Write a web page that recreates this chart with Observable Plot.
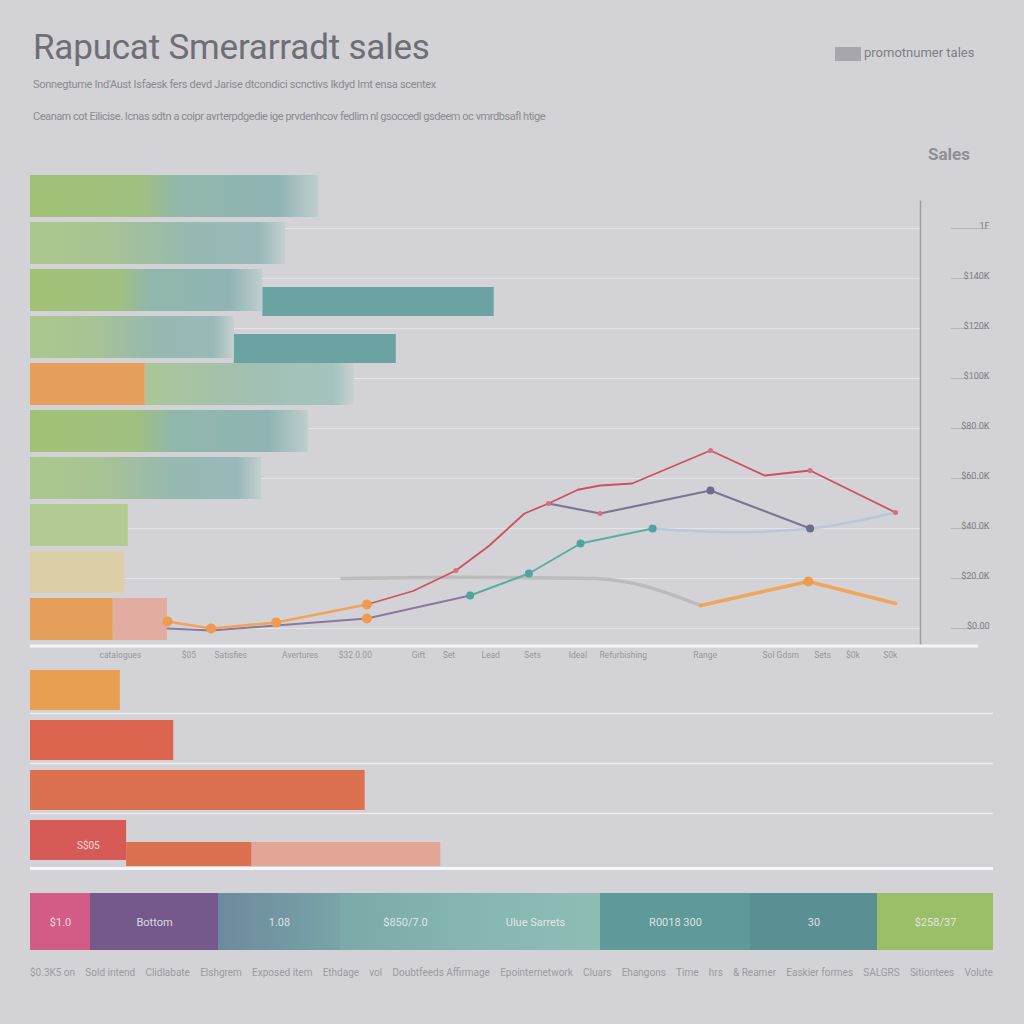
<!DOCTYPE html>
<html><head><meta charset="utf-8">
<script src="https://cdn.jsdelivr.net/npm/d3@7"></script>
<script src="https://cdn.jsdelivr.net/npm/@observablehq/plot@0.6"></script>
<style>
body{margin:0;background:#d3d3d7;font-family:Roboto,"Noto Sans",sans-serif;}
#wrap{position:relative;width:1024px;height:1024px;overflow:hidden;background:#d3d3d7;}
.abs{position:absolute;}
#title{left:33px;top:27px;font-size:35px;color:#6e6e74;letter-spacing:-0.2px;white-space:nowrap;}
#sub1{left:33px;top:78px;font-size:11px;color:#8a8a90;white-space:nowrap;letter-spacing:-0.3px;}
#sub2{left:33px;top:110px;font-size:11px;color:#8a8a90;white-space:nowrap;letter-spacing:-0.45px;}
#legIcon{left:835px;top:47px;width:26px;height:14px;background:#a6a6ac;}
#legText{left:864px;top:45px;font-size:13px;color:#7e7e84;white-space:nowrap;}
#salesLbl{left:928px;top:144px;font-size:17px;font-weight:bold;color:#8e8e94;}
#caption{left:30px;top:967px;width:963px;display:flex;justify-content:space-between;font-size:10px;color:#9a9aa0;white-space:nowrap;}
svg{display:block;}
</style></head><body>
<div id="wrap">
  <div id="title" class="abs"></div>
  <div id="sub1" class="abs"></div>
  <div id="sub2" class="abs"></div>
  <div id="legIcon" class="abs"></div>
  <div id="legText" class="abs"></div>
  <div id="salesLbl" class="abs"></div>
  <div id="gridLayer" class="abs" style="left:0;top:150px"></div>
  <div id="barLayer" class="abs" style="left:0;top:150px"></div>
  <div id="lineLayer" class="abs" style="left:0;top:150px"></div>
  <div id="lowerLayer" class="abs" style="left:0;top:645px"></div>
  <div id="bandLayer" class="abs" style="left:0;top:885px"></div>
  <div id="caption" class="abs"></div>
</div>
<script>
// ---------- text ----------
const titleText = "Rapucat Smerarradt sales";
const subtitle1 = "Sonnegtume Ind'Aust Isfaesk fers devd Jarise dtcondici scnctivs Ikdyd Imt ensa scentex";
const subtitle2 = "Ceanarn cot Eilicise. Icnas sdtn a coipr avrterpdgedie ige prvdenhcov fedlim nl gsoccedl gsdeem oc vmrdbsafl htige";
const legendText = "promotnumer tales";
const salesLabel = "Sales";
const captionWords = ["$0.3K5 on","Sold intend","Clidlabate","Elshgrem","Exposed item","Ethdage","vol","Doubtfeeds Affirmage","Epointernetwork","Cluars","Ehangons","Time","hrs","& Reamer","Easkier formes","SALGRS","Sitiontees","Volute"];

// ---------- main chart data ----------
const barRows = ["r1","r2","r3","r4","r5","r6","r7","r8","r9","r10"];
const barSegments = [
  {row:"r1", start:0, end:32.4, kind:"mixA"},
  {row:"r2", start:0, end:28.7, kind:"mixB"},
  {row:"r3", start:0, end:26.1, kind:"mixA"},
  {row:"r4", start:0, end:22.9, kind:"mixB"},
  {row:"r5", start:0, end:12.9, kind:"orange"},
  {row:"r5", start:12.9, end:36.4, kind:"mixC"},
  {row:"r6", start:0, end:31.2, kind:"mixA"},
  {row:"r7", start:0, end:26.0, kind:"mixB"},
  {row:"r8", start:0, end:11.0, kind:"green"},
  {row:"r9", start:0, end:10.6, kind:"cream"},
  {row:"r10", start:0, end:9.3, kind:"orange"},
  {row:"r10", start:9.3, end:15.4, kind:"pink"}
];
const offsetSegments = [
  {row:"r3", start:26.1, end:52.1},
  {row:"r4", start:22.9, end:41.1}
];

const yTickVals = [0,20,40,60,80,100,120,140,160];
const yTickLabels = ["$0.00","$20.0K","$40.0K","$60.0K","$80.0K","$100K","$120K","$140K","1F"];
const xTickVals = [10.1,17.8,22.5,30.3,36.5,43.6,47,51.7,56.4,61.5,66.6,75.8,84.3,89,92.4,96.6];
const xTickLabels = ["catalogues","$05","Satisfies","Avertures","$32.0.00","Gift","Set","Lead","Sets","Ideal","Refurbishing","Range","Sol Gdsm","Sets","$0k","S0k"];

const orangeEarly = [[15.4,2.8],[20.3,0],[27.6,2.4],[37.8,9.6]];
const orangeLate = [[75.3,9.2],[87.4,18.8],[97.2,10]];
const grayFaded = [[35,20],[49,20.5],[63.5,20],[66.3,19],[75.3,9.2]];
const purpleLow = [[15.4,0],[20.3,-0.8],[27.6,1.2],[37.8,4],[49.4,13.2]];
const tealLine = [[49.4,13.2],[56,22],[61.8,34],[69.9,40]];
const lightBlue = [[69.9,40],[79,38.5],[87.6,40],[97.2,46.4]];
const redLine = [[37.8,9.6],[43,15],[47.8,23.2],[51.5,33],[55.5,46],[58.2,50],[61.5,55.5],[64,57.2],[67.6,58],[76.4,71.2],[82.5,61.2],[87.6,63.2],[97.2,46.4]];
const slateLine = [[58.2,50],[64,46],[76.4,55.2],[87.6,40]];
const orangeDots = [[15.4,2.8],[20.3,0],[27.6,2.4],[37.8,9.6],[37.8,4],[87.4,18.8]];
const tealDots = [[49.4,13.2],[56,22],[61.8,34],[69.9,40]];
const slateDots = [[76.4,55.2],[87.6,40]];
const redDots = [[47.8,23.2],[58.2,50],[64,46],[76.4,71.2],[87.6,63.2],[97.2,46.4]];

// ---------- lower bar data ----------
const lowerRows = ["a","b","c","d"];
const lowerSegments = [
  {row:"a", start:0, end:10.1, kind:"orange"},
  {row:"b", start:0, end:16.1, kind:"red"},
  {row:"c", start:0, end:37.6, kind:"redOrange"},
  {row:"d", start:0, end:10.8, kind:"deepRed"}
];
const lowerOffset = [
  {row:"d", start:10.8, end:24.9, kind:"redOrange"},
  {row:"d", start:24.9, end:46.1, kind:"salmon"}
];
const lowerLabel = [{row:"d", x:6.5, text:"S$05"}];

// ---------- band data ----------
const bandSegments = [
  {w:60, label:"$1.0", kind:"pink"},
  {w:128, label:"Bottom", kind:"purple"},
  {w:122, label:"1.08", kind:"slate"},
  {w:130, label:"$850/7.0", kind:"lightTeal1"},
  {w:130, label:"Ulue Sarrets", kind:"lightTeal2"},
  {w:150, label:"R0018 300", kind:"teal1"},
  {w:127, label:"30", kind:"teal2"},
  {w:116, label:"$258/37", kind:"green"}
];

// ---------- styles ----------
const mainFills = {mixA:"url(#gMixA)", mixB:"url(#gMixB)", mixC:"url(#gMixC)", orange:"#e59f5a", green:"#b3cb93", cream:"#ddd0a8", pink:"#e2ada0"};
const lowerFills = {orange:"#e89f52", red:"#dc6550", redOrange:"#dc7150", deepRed:"#d65a56", salmon:"#e2a596"};
const bandFills = {pink:"#d45b86", purple:"#74598a", slate:"url(#gSlate)", lightTeal1:"url(#gLT1)", lightTeal2:"url(#gLT2)", teal1:"#5f9a98", teal2:"#5a9094", green:"#9bbf69"};

document.getElementById("title").textContent = titleText;
document.getElementById("sub1").textContent = subtitle1;
document.getElementById("sub2").textContent = subtitle2;
document.getElementById("legText").textContent = legendText;
document.getElementById("salesLbl").textContent = salesLabel;
const cap = document.getElementById("caption");
captionWords.forEach(w => { const s = document.createElement("span"); s.textContent = w; cap.appendChild(s); });

const xLabelMap = new Map(xTickVals.map((v,i)=>[v,xTickLabels[i]]));
const yLabelMap = new Map(yTickVals.map((v,i)=>[v,yTickLabels[i]]));

const W = 1024, H = 520;
const common = {
  width: W, height: H, marginLeft: 30, marginRight: 104, marginTop: 78, marginBottom: 24.5,
  style: {background: "transparent", overflow: "visible", fontFamily: "Roboto, sans-serif"}
};
const xScale = {domain: [0, 100], axis: null};
const yLin = {domain: [-7, 160], axis: null};

// grid layer
const gridPlot = Plot.plot({
  ...common, x: xScale, y: yLin,
  marks: [
    Plot.ruleY(yTickVals, {x1: 0, x2: 100, stroke: "#e4e4e8", strokeWidth: 1.2}),
    Plot.ruleY(yTickVals, {x1: 103.5, x2: 107.8, stroke: "#b4b4ba", strokeWidth: 1}),
    Plot.ruleX([100], {y1: -7, y2: 171, stroke: "#9c9ca2", strokeWidth: 1.5}),
    Plot.axisY(yTickVals, {anchor: "right", tickSize: 0, tickPadding: 0, dx: 69, textAnchor: "end", dy: -2,
      tickFormat: d => yLabelMap.get(d), fontSize: 9, fill: "#7c7c82", label: null}),
    Plot.axisX(xTickVals, {anchor: "bottom", tickSize: 0, tickPadding: 6, tickFormat: d => xLabelMap.get(d),
      fontSize: 8.5, fill: "#96969c", label: null})
  ]
});
document.getElementById("gridLayer").appendChild(gridPlot);

// bars layer
const barPlot = Plot.plot({
  ...common, marginTop: 20, marginBottom: 25,
  x: xScale, y: {domain: barRows, axis: null, padding: 0.1},
  marks: [
    Plot.barX(offsetSegments, {y: "row", x1: "start", x2: "end", fill: "#6ba3a3", insetTop: 18, insetBottom: -5}),
    Plot.barX(barSegments, {y: "row", x1: "start", x2: "end", fill: d => mainFills[d.kind]})
  ]
});
const ns = "http://www.w3.org/2000/svg";
function addDefs(svg, html) {
  const defs = document.createElementNS(ns, "defs");
  defs.innerHTML = html;
  svg.insertBefore(defs, svg.firstChild);
}
addDefs(barPlot, `
  <linearGradient id="gMixA" x1="0" x2="1" y1="0" y2="0">
    <stop offset="0" stop-color="#a2c176"/><stop offset="0.38" stop-color="#a0c080"/>
    <stop offset="0.52" stop-color="#90b7ac"/><stop offset="0.86" stop-color="#8fb4b3"/>
    <stop offset="1" stop-color="#c0cdcd"/></linearGradient>
  <linearGradient id="gMixB" x1="0" x2="1" y1="0" y2="0">
    <stop offset="0" stop-color="#acc78d"/><stop offset="0.3" stop-color="#a8c393"/>
    <stop offset="0.62" stop-color="#96b9b1"/><stop offset="0.9" stop-color="#99b9b9"/>
    <stop offset="1" stop-color="#c5d0d0"/></linearGradient>
  <linearGradient id="gMixC" x1="0" x2="1" y1="0" y2="0">
    <stop offset="0" stop-color="#abc698"/><stop offset="0.5" stop-color="#a1c0b1"/>
    <stop offset="0.9" stop-color="#a4c3bf"/><stop offset="1" stop-color="#c7d1d1"/></linearGradient>
`);
document.getElementById("barLayer").appendChild(barPlot);

// lines layer
const L = (data, opts) => Plot.line(data, {x: d => d[0], y: d => d[1], ...opts});
const D = (data, opts) => Plot.dot(data, {x: d => d[0], y: d => d[1], ...opts});
const linePlot = Plot.plot({
  ...common, x: xScale, y: yLin,
  marks: [
    L(grayFaded, {stroke: "#b5b1b1", strokeWidth: 3.5, strokeOpacity: 0.75, curve: "monotone-x"}),
    L(lightBlue, {stroke: "#b4c6d6", strokeWidth: 2.5, strokeOpacity: 0.9, curve: "monotone-x"}),
    L(purpleLow, {stroke: "#8a78a0", strokeWidth: 2}),
    L(tealLine, {stroke: "#55b0a0", strokeWidth: 2}),
    L(slateLine, {stroke: "#7e7496", strokeWidth: 2.2}),
    L(redLine, {stroke: "#cf5060", strokeWidth: 1.8}),
    L(orangeEarly, {stroke: "#f0a35a", strokeWidth: 2.5}),
    L(orangeLate, {stroke: "#f2a04e", strokeWidth: 3.5, strokeOpacity: 0.9}),
    D(orangeDots, {r: 5, fill: "#f09a4e"}),
    D(tealDots, {r: 4, fill: "#4fa59a"}),
    D(slateDots, {r: 4, fill: "#6e6d8a"}),
    D(redDots, {r: 2.5, fill: "#d87080"}),
    Plot.ruleY([-7], {x1: 0, x2: 106.5, stroke: "#f5f5f7", strokeWidth: 3})
  ]
});
document.getElementById("lineLayer").appendChild(linePlot);

// lower bars
const lowerPlot = Plot.plot({
  width: W, height: 235, marginLeft: 30, marginRight: 31, marginTop: 15, marginBottom: 10,
  style: {background: "transparent", overflow: "visible", fontFamily: "Roboto, sans-serif"},
  x: {domain: [0, 108.2], axis: null}, y: {domain: lowerRows, axis: null, padding: 0.2},
  marks: [
    Plot.ruleY(["a","b","c"], {dy: 23, stroke: "#ebebee", strokeWidth: 1.3}),
    Plot.barX(lowerOffset, {y: "row", x1: "start", x2: "end", fill: d => lowerFills[d.kind], insetTop: 22, insetBottom: -6}),
    Plot.barX(lowerSegments, {y: "row", x1: "start", x2: "end", fill: d => lowerFills[d.kind]}),
    Plot.text(lowerLabel, {y: "row", x: "x", text: "text", fill: "#f4dcd6", fontSize: 10, dy: 5}),
    Plot.ruleY(["d"], {dy: 28, stroke: "#f7f7f9", strokeWidth: 3})
  ]
});
document.getElementById("lowerLayer").appendChild(lowerPlot);

// band
const bandPlot = Plot.plot({
  width: W, height: 72, marginLeft: 30, marginRight: 31, marginTop: 8, marginBottom: 7,
  style: {background: "transparent", overflow: "visible", fontFamily: "Roboto, sans-serif"},
  x: {domain: [0, 963], axis: null},
  marks: [
    Plot.barX(bandSegments, Plot.stackX({x: "w", fill: d => bandFills[d.kind]})),
    Plot.text(bandSegments, Plot.stackX({x: "w", text: "label", fill: "#e9ecef", fontSize: 11, fillOpacity: 0.9}))
  ]
});
addDefs(bandPlot, `
  <linearGradient id="gSlate" x1="0" x2="1" y1="0" y2="0">
    <stop offset="0" stop-color="#6c8a9e"/><stop offset="1" stop-color="#79a4a8"/></linearGradient>
  <linearGradient id="gLT1" x1="0" x2="1" y1="0" y2="0">
    <stop offset="0" stop-color="#7aaaa9"/><stop offset="1" stop-color="#86b6b0"/></linearGradient>
  <linearGradient id="gLT2" x1="0" x2="1" y1="0" y2="0">
    <stop offset="0" stop-color="#86b6b0"/><stop offset="1" stop-color="#8dbdb5"/></linearGradient>
`);
document.getElementById("bandLayer").appendChild(bandPlot);
</script>
</body></html>
